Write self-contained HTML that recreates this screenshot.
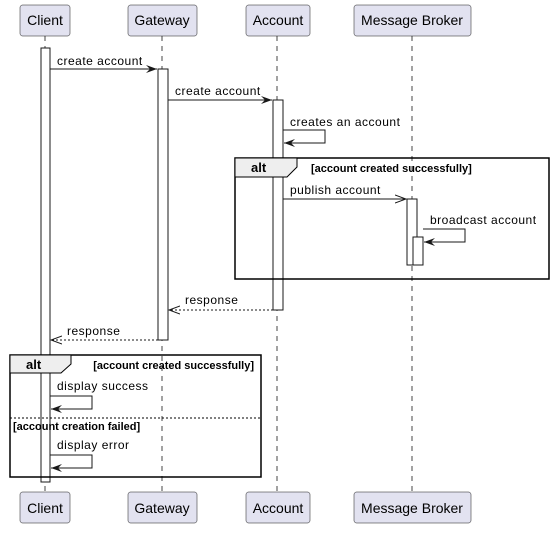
<!DOCTYPE html>
<html><head><style>body{margin:0;background:#fff}</style></head><body>
<svg width="554" height="528" xmlns="http://www.w3.org/2000/svg" font-family="Liberation Sans, sans-serif">
<defs>
<marker id="f" markerWidth="12" markerHeight="10" refX="11" refY="5" orient="auto" markerUnits="userSpaceOnUse"><path d="M0,1 L11,5 L0,9 L4,5 Z" fill="#181818"/></marker>
<marker id="o" markerWidth="12" markerHeight="10" refX="11" refY="5" orient="auto" markerUnits="userSpaceOnUse"><path d="M0,1 L11,5 L0,9" fill="none" stroke="#181818"/></marker>
</defs>
<g stroke="#181818" stroke-dasharray="5,5" stroke-width="0.8">
<line x1="45" y1="36" x2="45" y2="492"/><line x1="162" y1="36" x2="162" y2="492"/>
<line x1="277" y1="36" x2="277" y2="492"/><line x1="412" y1="36" x2="412" y2="492"/>
</g>
<g fill="#E2E2F0" stroke="#181818" stroke-width="0.5" font-size="14">
<rect x="20" y="5" width="50" height="31" rx="2.5"/><rect x="128" y="5" width="69" height="31" rx="2.5"/>
<rect x="246" y="5" width="64" height="31" rx="2.5"/><rect x="354" y="5" width="117" height="31" rx="2.5"/>
<rect x="20" y="492" width="50" height="31" rx="2.5"/><rect x="128" y="492" width="69" height="31" rx="2.5"/>
<rect x="246" y="492" width="64" height="31" rx="2.5"/><rect x="354" y="492" width="117" height="31" rx="2.5"/>
</g>
<g font-size="14" fill="#000" text-anchor="middle">
<text x="45" y="25">Client</text><text x="162" y="25">Gateway</text><text x="278" y="25">Account</text><text x="412" y="25">Message Broker</text>
<text x="45" y="513">Client</text><text x="162" y="513">Gateway</text><text x="278" y="513">Account</text><text x="412" y="513">Message Broker</text>
</g>
<g fill="#fff" stroke="#181818">
<rect x="41" y="48" width="9" height="434"/><rect x="158" y="69" width="10" height="271"/>
<rect x="273" y="100" width="10" height="210"/><rect x="407" y="199" width="10" height="66"/><rect x="413" y="237" width="10" height="28"/>
</g>
<g font-size="12" fill="#000" letter-spacing="0.5">
<text x="57" y="65">create account</text><text x="175" y="95">create account</text>
<text x="290" y="126">creates an account</text><text x="290" y="194">publish account</text>
<text x="430" y="224">broadcast account</text><text x="185" y="304">response</text><text x="67" y="335">response</text>
<text x="57" y="390">display success</text><text x="57" y="449">display error</text>
</g>
<g stroke="#181818" fill="none">
<line x1="50" y1="69" x2="157" y2="69" marker-end="url(#f)"/>
<line x1="168" y1="100" x2="272" y2="100" marker-end="url(#f)"/>
<polyline points="283,130 325,130 325,143 284,143" marker-end="url(#f)"/>
<line x1="283" y1="199" x2="406" y2="199" marker-end="url(#o)"/>
<polyline points="423,229 465,229 465,242 424,242" marker-end="url(#f)"/>
<line x1="273" y1="310" x2="169" y2="310" stroke-dasharray="2,2" marker-end="url(#o)"/>
<line x1="158" y1="340" x2="51" y2="340" stroke-dasharray="2,2" marker-end="url(#o)"/>
<polyline points="50,396 92,396 92,409 51,409" marker-end="url(#f)"/>
<polyline points="50,455 92,455 92,468 51,468" marker-end="url(#f)"/>
</g>
<g stroke="#000" stroke-width="1.5" fill="none">
<rect x="235" y="158" width="314" height="121"/><rect x="10" y="355" width="251" height="122"/>
</g>
<path d="M235,158 L297,158 L297,167 L287,177 L235,177 Z" fill="#EEEEEE" stroke="#000" stroke-width="1"/>
<path d="M10,355 L71,355 L71,364 L61,373 L10,373 Z" fill="#EEEEEE" stroke="#000" stroke-width="1"/>
<line x1="10" y1="418" x2="261" y2="418" stroke="#000" stroke-dasharray="2,2"/>
<g font-size="13" font-weight="bold" fill="#000"><text x="251" y="172">alt</text><text x="26" y="369">alt</text></g>
<g font-size="11" font-weight="bold" fill="#000">
<text x="311" y="172">[account created successfully]</text>
<text x="254" y="369" text-anchor="end">[account created successfully]</text>
<text x="13" y="430">[account creation failed]</text>
</g>
</svg>
</body></html>
